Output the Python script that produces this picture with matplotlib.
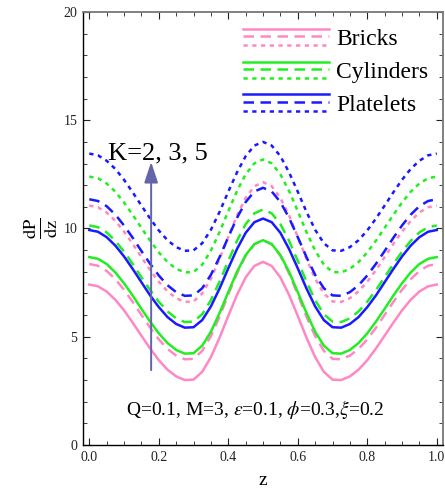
import matplotlib
matplotlib.use("Agg")
import matplotlib.pyplot as plt
from matplotlib.legend_handler import HandlerBase
from matplotlib.lines import Line2D
from matplotlib.ticker import MultipleLocator

plt.rcParams['font.family'] = ['Liberation Serif', 'DejaVu Serif']
plt.rcParams['mathtext.fontset'] = 'stix'

# z from 0 to 0.5, the curves are symmetric about z = 0.5
z_half = [0.0, 0.025, 0.05, 0.075, 0.1, 0.125, 0.15, 0.175, 0.2, 0.225, 0.25,
          0.275, 0.3, 0.325, 0.35, 0.375, 0.4, 0.425, 0.45, 0.475, 0.5]

# dP/dz, K = 2, 3, 5 for each nanoparticle shape
bricks_k2 = [7.41, 7.33, 7.09, 6.71, 6.22, 5.65, 5.05, 4.46, 3.92, 3.48, 3.17,
             3.00, 3.02, 3.38, 4.06, 4.96, 5.96, 6.93, 7.74, 8.27, 8.46]
bricks_k3 = [8.36, 8.28, 8.04, 7.66, 7.17, 6.61, 6.01, 5.42, 4.88, 4.44, 4.13,
             3.96, 3.98, 4.35, 5.03, 5.93, 6.95, 7.92, 8.74, 9.27, 9.46]
bricks_k5 = [11.06, 10.98, 10.74, 10.35, 9.86, 9.29, 8.68, 8.08, 7.54, 7.10, 6.78,
             6.61, 6.63, 7.00, 7.68, 8.60, 9.61, 10.60, 11.41, 11.95, 12.14]
cyl_k2 = [8.68, 8.60, 8.36, 7.97, 7.47, 6.90, 6.29, 5.70, 5.16, 4.71, 4.39,
          4.22, 4.24, 4.59, 5.23, 6.10, 7.06, 8.00, 8.77, 9.28, 9.46]
cyl_k3 = [10.14, 10.06, 9.82, 9.43, 8.93, 8.36, 7.75, 7.16, 6.62, 6.17, 5.85,
          5.68, 5.70, 6.04, 6.69, 7.55, 8.50, 9.43, 10.20, 10.70, 10.88]
cyl_k5 = [12.40, 12.32, 12.08, 11.70, 11.20, 10.63, 10.03, 9.44, 8.90, 8.45, 8.14,
          7.97, 7.99, 8.33, 8.98, 9.84, 10.80, 11.73, 12.50, 13.01, 13.19]
plat_k2 = [9.93, 9.85, 9.60, 9.21, 8.71, 8.13, 7.52, 6.91, 6.37, 5.91, 5.59,
           5.42, 5.44, 5.77, 6.40, 7.23, 8.16, 9.05, 9.80, 10.29, 10.46]
plat_k3 = [11.35, 11.27, 11.03, 10.64, 10.14, 9.57, 8.96, 8.37, 7.83, 7.38, 7.06,
           6.89, 6.91, 7.24, 7.86, 8.68, 9.60, 10.49, 11.22, 11.71, 11.88]
plat_k5 = [13.46, 13.38, 13.13, 12.75, 12.25, 11.67, 11.06, 10.46, 9.91, 9.46, 9.14,
           8.97, 8.99, 9.32, 9.94, 10.77, 11.70, 12.59, 13.34, 13.83, 14.00]

names = ['Bricks', 'Cylinders', 'Platelets']
series = [[bricks_k2, bricks_k3, bricks_k5],
          [cyl_k2, cyl_k3, cyl_k5],
          [plat_k2, plat_k3, plat_k5]]
colors = ['#ff88c4', '#22ee22', '#1a1aff']
styles = ['-', (0, (4.2, 2.6)), (0, (1.7, 1.8))]

# mirror the half curves about z = 0.5
z = list(z_half) + [1.0 - v for v in z_half[-2::-1]]


def full(half):
    return list(half) + list(half[-2::-1])


class HandlerStack(HandlerBase):
    # three lines on top of each other: solid, dashed, dotted
    def create_artists(self, legend, orig_handle, xdescent, ydescent,
                       width, height, fontsize, trans):
        arts = []
        for h, f in zip(orig_handle, [1.0, 0.55, 0.0]):
            y = -ydescent + height * f
            ln = Line2D([-xdescent, width - xdescent], [y, y])
            ln.update_from(h)
            ln.set_transform(trans)
            arts.append(ln)
        return arts


fig = plt.figure(figsize=(4.45, 4.94), dpi=100)
ax = fig.add_axes([0.1858, 0.0992, 0.8090, 0.8765])

handles = []
for name, group, c in zip(names, series, colors):
    lines = []
    for vals, ls in zip(group, styles):
        ln, = ax.plot(z, full(vals), color=c, ls=ls, lw=1.8)
        lines.append(ln)
    handles.append(tuple(lines))

ax.set_xlim(-0.019, 1.017)
ax.set_ylim(0, 20)
ax.xaxis.set_major_locator(MultipleLocator(0.2))
ax.xaxis.set_minor_locator(MultipleLocator(0.05))
ax.yaxis.set_major_locator(MultipleLocator(5))
ax.yaxis.set_minor_locator(MultipleLocator(1))
ax.xaxis.set_major_formatter(plt.FuncFormatter(lambda v, p: f'{v:.1f}'))
ax.tick_params(which='both', direction='in', top=True, right=True,
               labelsize=10, colors='#222222', pad=4)
ax.tick_params(which='major', length=5, width=0.8)
ax.tick_params(which='minor', length=3, width=0.6)
for s in ['left', 'bottom']:
    ax.spines[s].set_color('black')
    ax.spines[s].set_linewidth(1.0)
for s in ['top', 'right']:
    ax.spines[s].set_color('#777777')
    ax.spines[s].set_linewidth(1.3)

ax.set_xlabel('z', fontsize=14, labelpad=6)
ax.set_ylabel(r'$\frac{\mathrm{dP}}{\mathrm{dz}}$', fontsize=19, labelpad=2)

ax.annotate('', xy=(0.178, 13.2), xytext=(0.178, 3.33),
            arrowprops=dict(arrowstyle='-|>,head_length=0.9,head_width=0.3',
                            color='#6464a8', lw=1.4, mutation_scale=14))
ax.text(0.054, 13.45, 'K=2, 3, 5', fontsize=19, va='center', ha='left')
ax.text(0.477, 1.62, r'Q=0.1, M=3, $\varepsilon$=0.1, $\phi$=0.3,$\xi$=0.2',
        fontsize=14, va='center', ha='center')

ax.legend(handles, names, handler_map={tuple: HandlerStack()},
          loc='upper left', bbox_to_anchor=(0.445, 0.961), frameon=False,
          fontsize=17, handlelength=3.64, handleheight=0.68,
          handletextpad=0.3, labelspacing=0.48, borderpad=0, borderaxespad=0)

fig.savefig('out.png', dpi=100)
